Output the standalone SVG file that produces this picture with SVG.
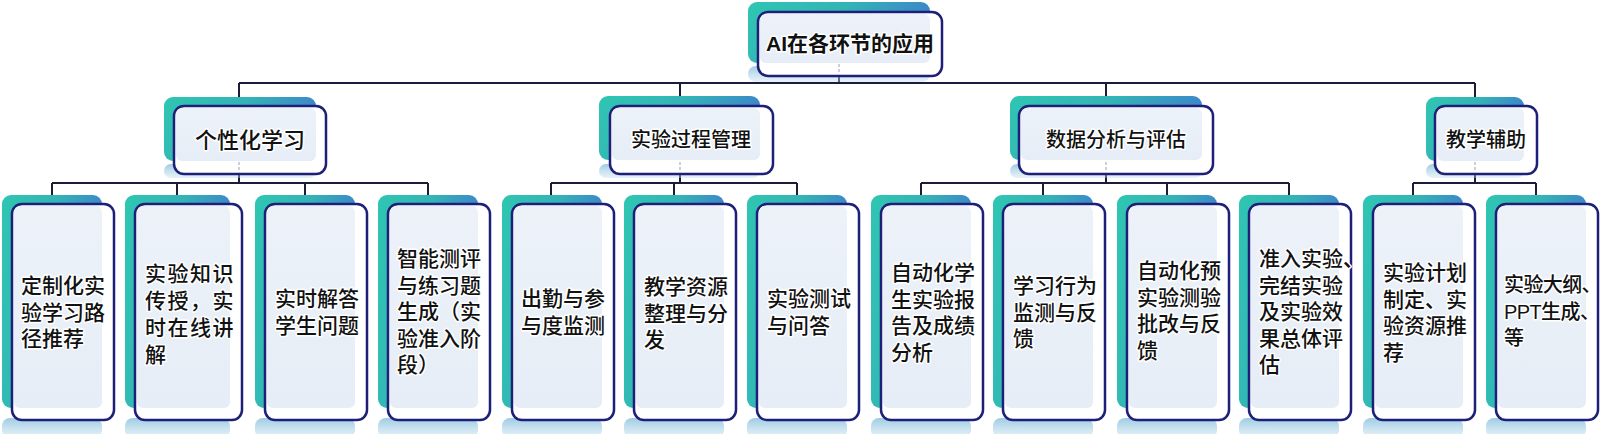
<svg xmlns="http://www.w3.org/2000/svg" width="1600" height="434" viewBox="0 0 1600 434">
<defs>
<linearGradient id="teal" x1="0" y1="0" x2="1" y2="0.35">
<stop offset="0" stop-color="#2fc6b2"/>
<stop offset="0.5" stop-color="#33b4b6"/>
<stop offset="1" stop-color="#3e7fcc"/>
</linearGradient>
<linearGradient id="refl" x1="0" y1="0" x2="0" y2="1">
<stop offset="0" stop-color="#8cc2de" stop-opacity="0.85"/>
<stop offset="1" stop-color="#b9d9ec" stop-opacity="0.35"/>
</linearGradient>
<linearGradient id="panel" x1="0" y1="0" x2="0" y2="1">
<stop offset="0" stop-color="#edf2f9"/>
<stop offset="1" stop-color="#e6edf6"/>
</linearGradient>
<style>
.back{fill:url(#teal);}
.refl{fill:url(#refl);}
.front{fill:#ffffff;stroke:#1d1f78;stroke-width:2.5;}
.panel{fill:url(#panel);}
.conn{fill:none;stroke:#1c1c3a;stroke-width:2;}
.ghost{stroke:#b8c2d0;stroke-width:1.5;stroke-dasharray:3 2;}
text{font-family:"Liberation Sans","Noto Sans CJK SC",sans-serif;fill:#111111;stroke:#ffffff;stroke-width:3;paint-order:stroke;stroke-linejoin:round;dominant-baseline:central;}
.t0{font-size:21px;font-weight:700;text-anchor:middle;}
.t1{font-size:20px;font-weight:500;text-anchor:middle;}
.t1b{font-size:22px;font-weight:500;text-anchor:middle;}
.t2{font-size:21px;font-weight:500;}
</style>
</defs>
<rect width="1600" height="434" fill="#ffffff"/>

<g id="connectors">
<path class="conn" d="M839 76V83M239 83H1475M239 83V97M680 83V97M1106 83V97M1475 83V97"/>
<path class="conn" d="M239 174V183M52 183H428M52 183V195M177 183V195M305 183V195M428 183V195"/>
<path class="conn" d="M680 174V183M551 183H797M551 183V195M674 183V195M797 183V195"/>
<path class="conn" d="M1106 174V183M921 183H1289M921 183V195M1043 183V195M1167 183V195M1289 183V195"/>
<path class="conn" d="M1475 174V183M1413 183H1536M1413 183V195M1536 183V195"/>
</g>

<g id="root">
<rect class="refl" x="748" y="66" width="182" height="16" rx="8"/>
<rect class="back" x="748" y="2" width="182" height="61" rx="9"/>
<rect class="front" x="758" y="12" width="184" height="64" rx="10"/>
<rect class="panel" x="760" y="14" width="170" height="49" rx="6"/>
<line class="ghost" x1="839" y1="64" x2="839" y2="75"/>
<text class="t0" x="850" y="43">AI在各环节的应用</text>
</g>

<g id="n-personal">
<rect class="refl" x="164" y="164" width="152" height="14" rx="7"/>
<rect class="back" x="164" y="97" width="152" height="64" rx="9"/>
<rect class="front" x="174" y="106" width="152" height="68" rx="10"/>
<rect class="panel" x="176" y="108" width="140" height="53" rx="6"/>
<line class="ghost" x1="239" y1="162" x2="239" y2="173"/>
<text class="t1b" x="250" y="140">个性化学习</text>
</g>

<g id="n-process">
<rect class="refl" x="599" y="164" width="161" height="14" rx="7"/>
<rect class="back" x="599" y="96" width="161" height="64" rx="9"/>
<rect class="front" x="610" y="106" width="163" height="68" rx="10"/>
<rect class="panel" x="612" y="108" width="148" height="52" rx="6"/>
<line class="ghost" x1="680" y1="162" x2="680" y2="173"/>
<text class="t1" x="691" y="140">实验过程管理</text>
</g>

<g id="n-data">
<rect class="refl" x="1010" y="164" width="192" height="14" rx="7"/>
<rect class="back" x="1010" y="96" width="192" height="64" rx="9"/>
<rect class="front" x="1019" y="106" width="194" height="68" rx="10"/>
<rect class="panel" x="1021" y="108" width="181" height="52" rx="6"/>
<line class="ghost" x1="1106" y1="162" x2="1106" y2="173"/>
<text class="t1" x="1116" y="140">数据分析与评估</text>
</g>

<g id="n-teach">
<rect class="refl" x="1426" y="164" width="98" height="14" rx="7"/>
<rect class="back" x="1426" y="97" width="98" height="64" rx="9"/>
<rect class="front" x="1435" y="106" width="102" height="68" rx="10"/>
<rect class="panel" x="1437" y="108" width="87" height="53" rx="6"/>
<line class="ghost" x1="1475" y1="162" x2="1475" y2="173"/>
<text class="t1" x="1486" y="140">教学辅助</text>
</g>

<g id="leaf1">
<rect class="refl" x="2" y="418" width="100" height="20" rx="8"/>
<rect class="back" x="2" y="195" width="100" height="213" rx="9"/>
<rect class="front" x="12" y="204" width="102" height="216" rx="10"/>
<rect class="panel" x="14" y="206" width="88" height="202" rx="6"/>
<text class="t2" x="21"><tspan x="21" y="285">定制化实</tspan><tspan x="21" y="311.5">验学习路</tspan><tspan x="21" y="338">径推荐</tspan></text>
</g>

<g id="leaf2">
<rect class="refl" x="125" y="418" width="105" height="20" rx="8"/>
<rect class="back" x="125" y="195" width="105" height="213" rx="9"/>
<rect class="front" x="135" y="204" width="107" height="216" rx="10"/>
<rect class="panel" x="137" y="206" width="93" height="202" rx="6"/>
<text class="t2" x="145" letter-spacing="1.5"><tspan x="145" y="273">实验知识</tspan><tspan x="145" y="300">传授，实</tspan><tspan x="145" y="327">时在线讲</tspan><tspan x="145" y="354">解</tspan></text>
</g>

<g id="leaf3">
<rect class="refl" x="255" y="418" width="100" height="20" rx="8"/>
<rect class="back" x="255" y="195" width="100" height="213" rx="9"/>
<rect class="front" x="265" y="204" width="102" height="216" rx="10"/>
<rect class="panel" x="267" y="206" width="88" height="202" rx="6"/>
<text class="t2" x="275"><tspan x="275" y="298">实时解答</tspan><tspan x="275" y="324.5">学生问题</tspan></text>
</g>

<g id="leaf4">
<rect class="refl" x="378" y="418" width="100" height="20" rx="8"/>
<rect class="back" x="378" y="195" width="100" height="213" rx="9"/>
<rect class="front" x="388" y="204" width="102" height="216" rx="10"/>
<rect class="panel" x="390" y="206" width="88" height="202" rx="6"/>
<text class="t2" x="397"><tspan x="397" y="258">智能测评</tspan><tspan x="397" y="284.5">与练习题</tspan><tspan x="397" y="311">生成（实</tspan><tspan x="397" y="337.5">验准入阶</tspan><tspan x="397" y="364">段）</tspan></text>
</g>

<g id="leaf5">
<rect class="refl" x="502" y="418" width="100" height="20" rx="8"/>
<rect class="back" x="502" y="195" width="100" height="213" rx="9"/>
<rect class="front" x="512" y="204" width="102" height="216" rx="10"/>
<rect class="panel" x="514" y="206" width="88" height="202" rx="6"/>
<text class="t2" x="521"><tspan x="521" y="298">出勤与参</tspan><tspan x="521" y="324.5">与度监测</tspan></text>
</g>

<g id="leaf6">
<rect class="refl" x="624" y="418" width="100" height="20" rx="8"/>
<rect class="back" x="624" y="195" width="100" height="213" rx="9"/>
<rect class="front" x="634" y="204" width="102" height="216" rx="10"/>
<rect class="panel" x="636" y="206" width="88" height="202" rx="6"/>
<text class="t2" x="644"><tspan x="644" y="286">教学资源</tspan><tspan x="644" y="312.5">整理与分</tspan><tspan x="644" y="339">发</tspan></text>
</g>

<g id="leaf7">
<rect class="refl" x="747" y="418" width="100" height="20" rx="8"/>
<rect class="back" x="747" y="195" width="100" height="213" rx="9"/>
<rect class="front" x="757" y="204" width="102" height="216" rx="10"/>
<rect class="panel" x="759" y="206" width="88" height="202" rx="6"/>
<text class="t2" x="767"><tspan x="767" y="298">实验测试</tspan><tspan x="767" y="324.5">与问答</tspan></text>
</g>

<g id="leaf8">
<rect class="refl" x="871" y="418" width="100" height="20" rx="8"/>
<rect class="back" x="871" y="195" width="100" height="213" rx="9"/>
<rect class="front" x="881" y="204" width="102" height="216" rx="10"/>
<rect class="panel" x="883" y="206" width="88" height="202" rx="6"/>
<text class="t2" x="891"><tspan x="891" y="272">自动化学</tspan><tspan x="891" y="298.5">生实验报</tspan><tspan x="891" y="325">告及成绩</tspan><tspan x="891" y="351.5">分析</tspan></text>
</g>

<g id="leaf9">
<rect class="refl" x="993" y="418" width="100" height="20" rx="8"/>
<rect class="back" x="993" y="195" width="100" height="213" rx="9"/>
<rect class="front" x="1003" y="204" width="102" height="216" rx="10"/>
<rect class="panel" x="1005" y="206" width="88" height="202" rx="6"/>
<text class="t2" x="1013"><tspan x="1013" y="285">学习行为</tspan><tspan x="1013" y="311.5">监测与反</tspan><tspan x="1013" y="338">馈</tspan></text>
</g>

<g id="leaf10">
<rect class="refl" x="1117" y="418" width="100" height="20" rx="8"/>
<rect class="back" x="1117" y="195" width="100" height="213" rx="9"/>
<rect class="front" x="1127" y="204" width="102" height="216" rx="10"/>
<rect class="panel" x="1129" y="206" width="88" height="202" rx="6"/>
<text class="t2" x="1137"><tspan x="1137" y="270">自动化预</tspan><tspan x="1137" y="296.5">实验测验</tspan><tspan x="1137" y="323">批改与反</tspan><tspan x="1137" y="349.5">馈</tspan></text>
</g>

<g id="leaf11">
<rect class="refl" x="1239" y="418" width="100" height="20" rx="8"/>
<rect class="back" x="1239" y="195" width="100" height="213" rx="9"/>
<rect class="front" x="1249" y="204" width="102" height="216" rx="10"/>
<rect class="panel" x="1251" y="206" width="88" height="202" rx="6"/>
<text class="t2" x="1259"><tspan x="1259" y="258">准入实验、</tspan><tspan x="1259" y="284.5">完结实验</tspan><tspan x="1259" y="311">及实验效</tspan><tspan x="1259" y="337.5">果总体评</tspan><tspan x="1259" y="364">估</tspan></text>
</g>

<g id="leaf12">
<rect class="refl" x="1363" y="418" width="100" height="20" rx="8"/>
<rect class="back" x="1363" y="195" width="100" height="213" rx="9"/>
<rect class="front" x="1373" y="204" width="102" height="216" rx="10"/>
<rect class="panel" x="1375" y="206" width="88" height="202" rx="6"/>
<text class="t2" x="1383"><tspan x="1383" y="272">实验计划</tspan><tspan x="1383" y="298.5">制定、实</tspan><tspan x="1383" y="325">验资源推</tspan><tspan x="1383" y="351.5">荐</tspan></text>
</g>

<g id="leaf13">
<rect class="refl" x="1486" y="418" width="100" height="20" rx="8"/>
<rect class="back" x="1486" y="195" width="100" height="213" rx="9"/>
<rect class="front" x="1496" y="204" width="102" height="216" rx="10"/>
<rect class="panel" x="1498" y="206" width="88" height="202" rx="6"/>
<text class="t2" x="1504" style="font-size:20px" letter-spacing="-0.6"><tspan x="1504" y="285">实验大纲、</tspan><tspan x="1504" y="311.5">PPT生成、</tspan><tspan x="1504" y="338">等</tspan></text>
</g>
</svg>
